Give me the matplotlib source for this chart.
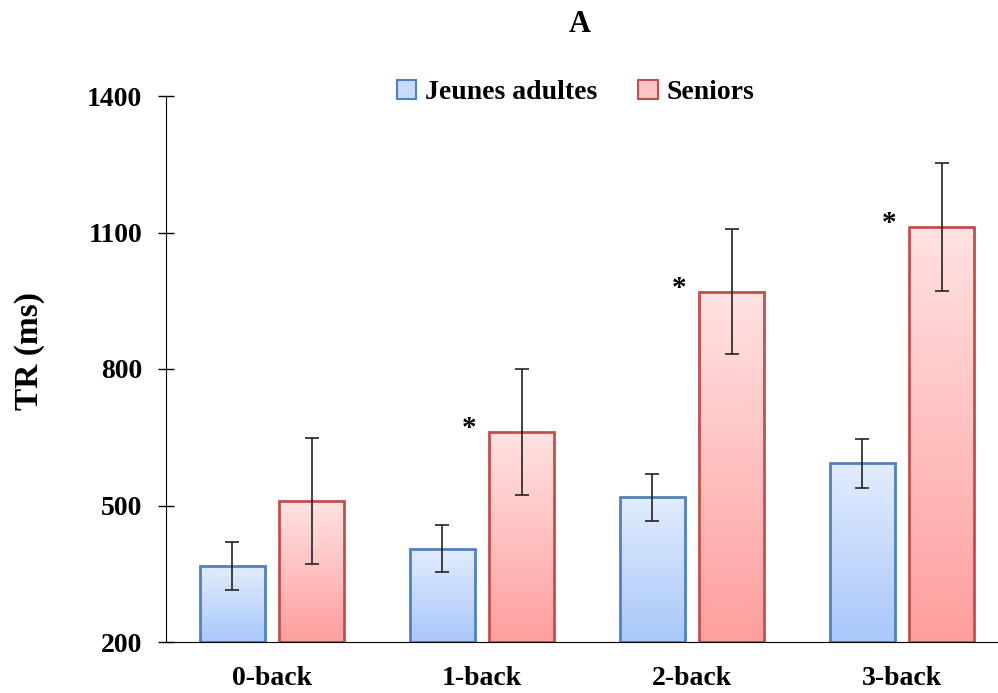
import numpy as np
import matplotlib.pyplot as plt
from matplotlib.colors import LinearSegmentedColormap
from matplotlib.patches import Patch

plt.rcParams['font.family'] = ['Liberation Serif', 'DejaVu Serif']
plt.rcParams['font.weight'] = 'bold'

conditions = ["0-back", "1-back", "2-back", "3-back"]
jeunes = [367, 405, 518, 593]
jeunes_err = [52, 52, 52, 54]
seniors = [510, 662, 970, 1112]
seniors_err = [138, 138, 138, 140]
signif = [False, True, True, True]

blue_edge = "#4F81BD"
red_edge = "#C0504D"
blue_cmap = LinearSegmentedColormap.from_list("b", ["#A9C7FA", "#E2ECFD"])
red_cmap = LinearSegmentedColormap.from_list("r", ["#FF9E9E", "#FFE2E2"])

fig = plt.figure(figsize=(9.98, 6.93), dpi=100)
ax = fig.add_axes([166/998, 51/693, 832/998, 546/693])

x = np.arange(len(conditions))
w = 0.31
off = 0.19


def gradient_bars(bars, cmap):
    grad = np.linspace(0, 1, 256).reshape(-1, 1)
    for b in bars:
        x0, y0 = b.get_x(), b.get_y()
        im = ax.imshow(grad, cmap=cmap, origin='lower', aspect='auto',
                       extent=[x0, x0 + b.get_width(), 200, y0 + b.get_height()],
                       zorder=1)
        im.set_clip_path(b)


b1 = ax.bar(x - off, np.array(jeunes) - 200, w, bottom=200, facecolor='none',
            edgecolor=blue_edge, linewidth=2, zorder=2)
b2 = ax.bar(x + off, np.array(seniors) - 200, w, bottom=200, facecolor='none',
            edgecolor=red_edge, linewidth=2, zorder=2)
gradient_bars(b1, blue_cmap)
gradient_bars(b2, red_cmap)

ax.errorbar(x - off, jeunes, yerr=jeunes_err, fmt='none', ecolor='#222222',
            elinewidth=1.2, capsize=5, capthick=1.2, zorder=3)
ax.errorbar(x + off, seniors, yerr=seniors_err, fmt='none', ecolor='#222222',
            elinewidth=1.2, capsize=5, capthick=1.2, zorder=3)

for i, s in enumerate(signif):
    if s:
        ax.text(x[i] + off - w / 2 - 0.095, seniors[i] - 22, "*", ha='center',
                va='bottom', fontsize=21, fontweight='bold')

ax.set_xlim(-0.505, 3.457)
ax.set_ylim(200, 1400)
ax.set_yticks([200, 500, 800, 1100, 1400])
ax.set_xticks(x)
ax.set_xticklabels(conditions)
ax.tick_params(axis='y', direction='inout', length=12, width=1, labelsize=20, pad=11)
ax.tick_params(axis='x', length=0, labelsize=20, pad=17)
for lab in ax.get_yticklabels() + ax.get_xticklabels():
    lab.set_fontweight('bold')
ax.spines['top'].set_visible(False)
ax.spines['right'].set_visible(False)
ax.set_ylabel("TR (ms)", fontsize=24, fontweight='bold')
ax.yaxis.set_label_coords(-0.146, 0.533)

handles = [Patch(facecolor="#C8DBFB", edgecolor=blue_edge, linewidth=1.5),
           Patch(facecolor="#FFC4C4", edgecolor=red_edge, linewidth=1.5)]
ax.legend(handles, ["Jeunes adultes", "Seniors"], loc='upper center',
          bbox_to_anchor=(0.492, 1.075), ncol=2, frameon=False,
          handlelength=0.7, handleheight=0.7, handletextpad=0.3, columnspacing=1.5,
          prop={'weight': 'bold', 'size': 20})

fig.text(0.581, 0.965, "A", ha='center', va='center', fontsize=22, fontweight='bold')

fig.savefig("out.png", dpi=100)
